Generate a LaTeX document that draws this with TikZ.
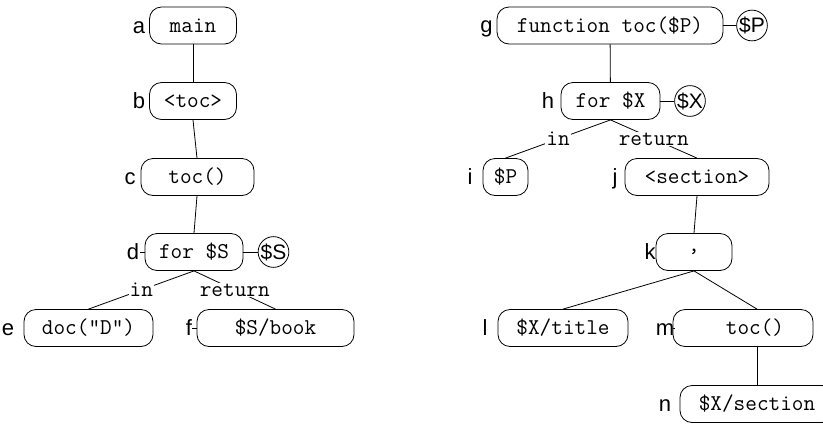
\documentclass[tikz,border=0pt]{standalone}
\usepackage{fontspec}
\setmainfont{Liberation Sans}
\begin{document}
\begin{tikzpicture}[x=1pt,y=-1pt,line width=0.8pt,
 box/.style={draw,rounded corners=12pt,minimum height=37pt,inner sep=0pt,font=\ttfamily\fontsize{22.6}{26}\selectfont},
 lab/.style={font=\fontsize{22}{24}\selectfont,inner sep=0pt,anchor=base},
 var/.style={draw,circle,minimum size=30pt,inner sep=0pt,font=\fontsize{21}{22}\selectfont},
 el/.style={fill=white,inner sep=1pt,font=\ttfamily\fontsize{22.6}{26}\selectfont}]
\useasboundingbox[fill=white] (0,0) rectangle (823,424);
% left tree
\node[box,minimum width=87pt] (a) at (193,25.5) {main};
\node[box,minimum width=87pt] (b) at (193,101) {<toc>};
\node[box,minimum width=113pt] (c) at (197.5,177) {toc()};
\node[box,minimum width=98pt] (d) at (194,252) {for \$S};
\node[box,minimum width=129pt] (e) at (88.5,328) {doc("D")};
\node[box,minimum width=157pt] (f) at (275.5,328) {\$S/book};
\node[var] (vs) at (273.5,252) {\$S};
\node[lab] (la) at (139,33) {a};
\node[lab] (lb) at (139,108) {b};
\node[lab] (lc) at (130,184) {c};
\node[lab] (ld) at (133,259) {d};
\node[lab] (le) at (8,335) {e};
\node[lab] (lf) at (189,335) {f};
\draw (a) -- (b);
\draw (b.south) -- (c.north -| 197,0);
\draw (c.south -| 197,0) -- (d.north);
\draw (d.south) -- node[el] {in} (e.north);
\draw (d.south) -- node[el] {return} (f.north);
\draw (d) -- (vs);
\draw (d.west -| ld.east) -- (d.west);
\draw (f.west -| lf.east) -- (f.west);
% right tree
\node[box,minimum width=226pt] (g) at (610,25.5) {function toc(\$P)};
\node[box,minimum width=99pt] (h) at (610.5,101) {for \$X};
\node[box,minimum width=45pt] (i) at (505.5,177) {\$P};
\node[box,minimum width=144pt] (j) at (697,177) {<section>};
\node[box,minimum width=76pt] (k) at (694,252) {,};
\node[box,minimum width=130pt] (l) at (563,328) {\$X/title};
\node[box,minimum width=140pt] (m) at (743,328) {\hspace*{24pt}toc()};
\node[box,minimum width=154pt] (n) at (757,404) {\$X/section};
\node[var] (vp) at (752,25.5) {\$P};
\node[var] (vx) at (690,101) {\$X};
\node[lab] (lg) at (486.5,32) {g};
\node[lab] (lh) at (548,108) {h};
\node[lab] (li) at (470,184) {i};
\node[lab] (lj) at (615,184) {j};
\node[lab] (lk) at (650,259) {k};
\node[lab] (ll) at (485,335) {l};
\node[lab] (lm) at (665,335) {m};
\node[lab] (ln) at (665,411) {n};
\draw (g) -- (h);
\draw (g) -- (vp);
\draw (h) -- (vx);
\draw (h.south) -- node[el] {in} (i.north);
\draw (h.south) -- node[el] {return} (j.north);
\draw (j.south) -- (k.north);
\draw (k.south) -- (l.north);
\draw (k.south) -- ([xshift=14pt]m.north);
\draw ([xshift=14pt]m.south) -- (n.north);
\draw (m.west -| lm.east) -- (m.west);
\end{tikzpicture}
\end{document}
